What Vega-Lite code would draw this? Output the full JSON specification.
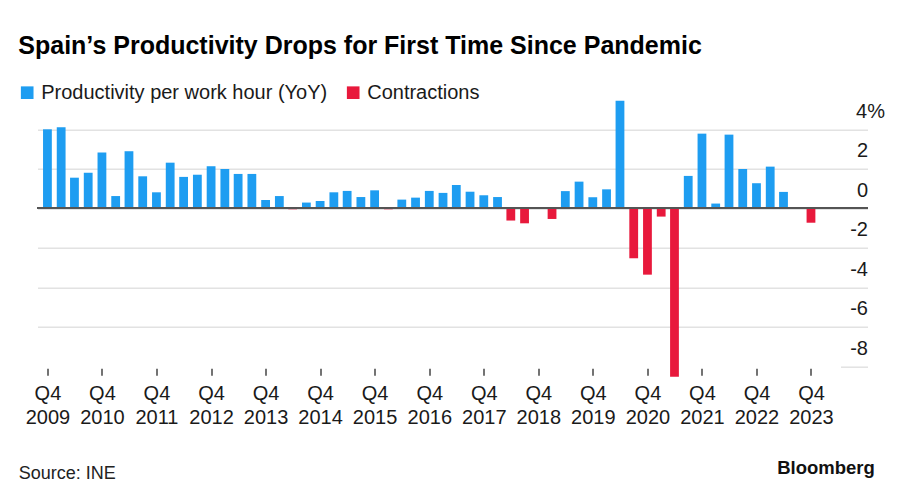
{
  "$schema": "https://vega.github.io/schema/vega-lite/v6.json",
  "width": 830,
  "height": 280.45,
  "autosize": "none",
  "padding": {"left": 37.5, "top": 97.7, "right": 34.5, "bottom": 119.85},
  "background": "white",
  "title": {
    "text": "Spain’s Productivity Drops for First Time Since Pandemic",
    "anchor": "start",
    "frame": "group",
    "font": "Liberation Sans",
    "fontSize": 25,
    "fontWeight": "bold",
    "color": "#000000",
    "dx": -19.2,
    "offset": 24
  },
  "data": {
    "values": [
      {"q": "2009-11-15", "v": 4.0, "s": "P"},
      {"q": "2010-02-15", "v": 4.1, "s": "P"},
      {"q": "2010-05-15", "v": 1.55, "s": "P"},
      {"q": "2010-08-15", "v": 1.8, "s": "P"},
      {"q": "2010-11-15", "v": 2.82, "s": "P"},
      {"q": "2011-02-15", "v": 0.62, "s": "P"},
      {"q": "2011-05-15", "v": 2.89, "s": "P"},
      {"q": "2011-08-15", "v": 1.62, "s": "P"},
      {"q": "2011-11-15", "v": 0.81, "s": "P"},
      {"q": "2012-02-15", "v": 2.31, "s": "P"},
      {"q": "2012-05-15", "v": 1.59, "s": "P"},
      {"q": "2012-08-15", "v": 1.7, "s": "P"},
      {"q": "2012-11-15", "v": 2.13, "s": "P"},
      {"q": "2013-02-15", "v": 1.99, "s": "P"},
      {"q": "2013-05-15", "v": 1.74, "s": "P"},
      {"q": "2013-08-15", "v": 1.74, "s": "P"},
      {"q": "2013-11-15", "v": 0.42, "s": "P"},
      {"q": "2014-02-15", "v": 0.62, "s": "P"},
      {"q": "2014-05-15", "v": -0.05, "s": "C"},
      {"q": "2014-08-15", "v": 0.29, "s": "P"},
      {"q": "2014-11-15", "v": 0.37, "s": "P"},
      {"q": "2015-02-15", "v": 0.81, "s": "P"},
      {"q": "2015-05-15", "v": 0.88, "s": "P"},
      {"q": "2015-08-15", "v": 0.57, "s": "P"},
      {"q": "2015-11-15", "v": 0.91, "s": "P"},
      {"q": "2016-02-15", "v": -0.05, "s": "C"},
      {"q": "2016-05-15", "v": 0.44, "s": "P"},
      {"q": "2016-08-15", "v": 0.54, "s": "P"},
      {"q": "2016-11-15", "v": 0.88, "s": "P"},
      {"q": "2017-02-15", "v": 0.78, "s": "P"},
      {"q": "2017-05-15", "v": 1.18, "s": "P"},
      {"q": "2017-08-15", "v": 0.84, "s": "P"},
      {"q": "2017-11-15", "v": 0.66, "s": "P"},
      {"q": "2018-02-15", "v": 0.57, "s": "P"},
      {"q": "2018-05-15", "v": -0.62, "s": "C"},
      {"q": "2018-08-15", "v": -0.76, "s": "C"},
      {"q": "2018-11-15", "v": 0.0, "s": "P"},
      {"q": "2019-02-15", "v": -0.54, "s": "C"},
      {"q": "2019-05-15", "v": 0.87, "s": "P"},
      {"q": "2019-08-15", "v": 1.35, "s": "P"},
      {"q": "2019-11-15", "v": 0.56, "s": "P"},
      {"q": "2020-02-15", "v": 0.96, "s": "P"},
      {"q": "2020-05-15", "v": 5.45, "s": "P"},
      {"q": "2020-08-15", "v": -2.53, "s": "C"},
      {"q": "2020-11-15", "v": -3.36, "s": "C"},
      {"q": "2021-02-15", "v": -0.42, "s": "C"},
      {"q": "2021-05-15", "v": -8.53, "s": "C"},
      {"q": "2021-08-15", "v": 1.64, "s": "P"},
      {"q": "2021-11-15", "v": 3.78, "s": "P"},
      {"q": "2022-02-15", "v": 0.24, "s": "P"},
      {"q": "2022-05-15", "v": 3.73, "s": "P"},
      {"q": "2022-08-15", "v": 1.99, "s": "P"},
      {"q": "2022-11-15", "v": 1.27, "s": "P"},
      {"q": "2023-02-15", "v": 2.11, "s": "P"},
      {"q": "2023-05-15", "v": 0.83, "s": "P"},
      {"q": "2023-08-15", "v": 0.05, "s": "P"},
      {"q": "2023-11-15", "v": -0.73, "s": "C"}
    ]
  },
  "layer": [
    {
      "mark": {"type": "bar", "width": 8.8},
      "encoding": {
        "x": {
          "field": "q",
          "type": "temporal",
          "scale": {
            "type": "utc",
            "domain": [
              {"year": 2009, "month": 10, "date": 13, "utc": true},
              {"year": 2024, "month": 10, "date": 25, "utc": true}
            ]
          },
          "axis": {
            "values": [
              {"year": 2009, "month": 11, "date": 15, "utc": true},
              {"year": 2010, "month": 11, "date": 15, "utc": true},
              {"year": 2011, "month": 11, "date": 15, "utc": true},
              {"year": 2012, "month": 11, "date": 15, "utc": true},
              {"year": 2013, "month": 11, "date": 15, "utc": true},
              {"year": 2014, "month": 11, "date": 15, "utc": true},
              {"year": 2015, "month": 11, "date": 15, "utc": true},
              {"year": 2016, "month": 11, "date": 15, "utc": true},
              {"year": 2017, "month": 11, "date": 15, "utc": true},
              {"year": 2018, "month": 11, "date": 15, "utc": true},
              {"year": 2019, "month": 11, "date": 15, "utc": true},
              {"year": 2020, "month": 11, "date": 15, "utc": true},
              {"year": 2021, "month": 11, "date": 15, "utc": true},
              {"year": 2022, "month": 11, "date": 15, "utc": true},
              {"year": 2023, "month": 11, "date": 15, "utc": true}
            ],
            "labelExpr": "['Q4', utcFormat(datum.value, '%Y')]",
            "grid": false,
            "domain": false,
            "ticks": true,
            "tickSize": 7,
            "tickColor": "#444444",
            "tickWidth": 1.5,
            "offset": -10,
            "labelFont": "Liberation Sans",
            "labelFontSize": 20,
            "labelColor": "#1a1a1a",
            "labelPadding": 8,
            "labelLineHeight": 24,
            "labelFlush": false,
            "labelOverlap": false,
            "title": "Source: INE",
            "titleFont": "Liberation Sans",
            "titleFontSize": 18,
            "titleFontWeight": "normal",
            "titleColor": "#222222",
            "titleX": -19.2,
            "titleY": 110.8,
            "titleAlign": "left",
            "titleBaseline": "alphabetic"
          }
        },
        "y": {
          "field": "v",
          "type": "quantitative",
          "scale": {"domain": [-8.6, 5.6], "nice": false, "zero": false},
          "axis": {
            "orient": "right",
            "values": [-8, -6, -4, -2, 0, 2, 4],
            "labelExpr": "datum.value == 4 ? '4%' : toString(datum.value)",
            "domain": false,
            "ticks": false,
            "tickSize": 0,
            "grid": true,
            "gridColor": "#e2e2e2",
            "gridWidth": 1.5,
            "gridDash": {"condition": {"test": "datum.value == -8", "value": [27, 2000]}, "value": []},
            "labelAlign": "right",
            "labelBaseline": "alphabetic",
            "labelOffset": -12,
            "labelPadding": {"condition": {"test": "datum.value == 4", "value": 17}, "value": 0},
            "labelFont": "Liberation Sans",
            "labelFontSize": 20,
            "labelColor": "#1a1a1a",
            "title": "Bloomberg",
            "titleAngle": 0,
            "titleX": -90.8,
            "titleY": 375.3,
            "titleAlign": "left",
            "titleBaseline": "alphabetic",
            "titleFont": "Liberation Sans",
            "titleFontSize": 18.5,
            "titleFontWeight": "bold",
            "titleColor": "#111111"
          }
        },
        "color": {
          "field": "s",
          "type": "nominal",
          "scale": {"domain": ["P", "C"], "range": ["#1e9df1", "#e8193c"]},
          "legend": {
            "orient": "none",
            "legendX": -20.3,
            "legendY": -15,
            "direction": "horizontal",
            "title": null,
            "symbolType": "square",
            "symbolSize": 160,
            "symbolStrokeWidth": 0,
            "labelFont": "Liberation Sans",
            "labelFontSize": 20,
            "labelColor": "#1a1a1a",
            "labelOffset": 4,
            "labelLimit": 0,
            "columnPadding": 15,
            "padding": 0,
            "labelExpr": "datum.value == 'P' ? 'Productivity per work hour (YoY)' : 'Contractions'"
          }
        }
      }
    },
    {
      "mark": {"type": "rule", "color": "#555555", "strokeWidth": 1.5},
      "encoding": {"y": {"datum": 0}}
    }
  ],
  "config": {
    "font": "Liberation Sans",
    "view": {"stroke": null}
  }
}
